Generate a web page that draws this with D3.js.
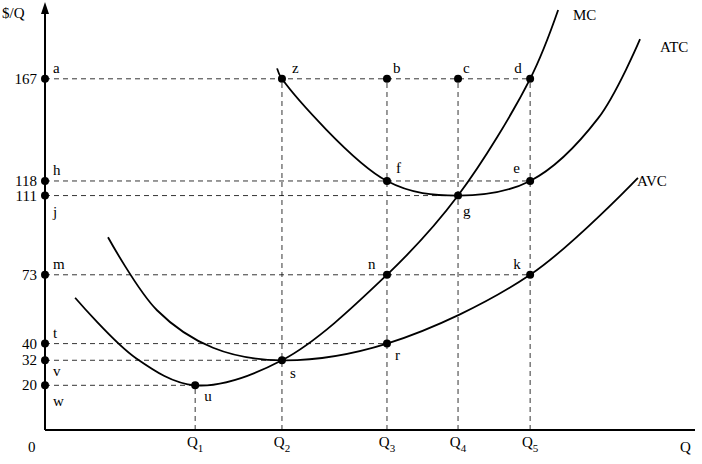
<!DOCTYPE html><html><head><meta charset="utf-8"><script src="https://cdn.jsdelivr.net/npm/d3@7"></script>
<style>body{margin:0;background:#fff}text{font-family:"Liberation Serif",serif;font-size:15px;fill:#000}</style></head><body>
<svg id="c" width="702" height="464"></svg>
<script>
const priceTicks=[167,118,111,73,40,32,20];
const priceLetters=["a","h","j","m","t","v","w"];
const qTicks=[4.29,6.77,9.77,11.8,13.86];
const qLabels=["1","2","3","4","5"];
const mc=[[0.86,62],[2.6,33],[4.29,20],[6.77,32],[9.77,73],[11.8,111],[13.86,167],[14.66,200]];
const atc=[[6.63,172],[6.77,167],[9.77,118],[11.8,111],[13.86,118],[15.8,148],[17,186]];
const avc=[[1.8,91],[3.2,56],[4.8,38],[6.77,32],[9.77,40],[13.86,73],[16.94,119.5]];
const pts=[{n:"z",q:6.77,v:167},{n:"b",q:9.77,v:167},{n:"c",q:11.8,v:167},{n:"d",q:13.86,v:167},
{n:"f",q:9.77,v:118},{n:"e",q:13.86,v:118},{n:"g",q:11.8,v:111},{n:"n",q:9.77,v:73},{n:"k",q:13.86,v:73},
{n:"r",q:9.77,v:40},{n:"s",q:6.77,v:32},{n:"u",q:4.29,v:20}];
const hLines=[[167,13.86],[118,13.86],[111,11.8],[73,13.86],[40,9.77],[32,6.77],[20,4.29]];
const vLines=[[4.29,20],[6.77,167],[9.77,167],[11.8,167],[13.86,167]];
const svg=d3.select("#c");
const x=d3.scaleLinear().domain([0,18.57]).range([45,695]);
const y=d3.scaleLinear().domain([0,200]).range([427,10]);
const y0=430;
hLines.forEach(([v,q])=>svg.append("line").attr("x1",x(0)).attr("x2",x(q)).attr("y1",y(v)).attr("y2",y(v)).attr("stroke","#000").attr("stroke-dasharray","5,4").attr("stroke-width",0.8));
vLines.forEach(([q,v])=>svg.append("line").attr("x1",x(q)).attr("x2",x(q)).attr("y1",y0).attr("y2",y(v)).attr("stroke","#000").attr("stroke-dasharray","5,4").attr("stroke-width",0.8));
svg.append("line").attr("x1",45).attr("x2",45).attr("y1",y0).attr("y2",12).attr("stroke","#000").attr("stroke-width",2);
svg.append("path").attr("d","M45,2 L41,14 L49,14Z");
svg.append("line").attr("x1",45).attr("x2",695).attr("y1",y0).attr("y2",y0).attr("stroke","#000").attr("stroke-width",2);
svg.append("text").attr("x",2).attr("y",18).text("$/Q");
svg.append("text").attr("x",28).attr("y",452).text("0");
svg.append("text").attr("x",680).attr("y",452).text("Q");
const line=d3.line().x(d=>x(d[0])).y(d=>y(d[1])).curve(d3.curveCatmullRom.alpha(0.5));
[mc,atc,avc].forEach(d=>svg.append("path").attr("d",line(d)).attr("fill","none").attr("stroke","#000").attr("stroke-width",1.8));
svg.append("text").attr("x",573).attr("y",20).text("MC");
svg.append("text").attr("x",660).attr("y",52).text("ATC");
svg.append("text").attr("x",637).attr("y",186).text("AVC");
priceTicks.forEach((v,i)=>{
 svg.append("text").attr("x",37).attr("y",y(v)+5).attr("text-anchor","end").text(v);
 svg.append("circle").attr("cx",45).attr("cy",y(v)).attr("r",4);
 const below=["j","w","v"].includes(priceLetters[i]);
 svg.append("text").attr("x",53).attr("y",priceLetters[i]=="v"?y(v)+16:below?y(v)+21:y(v)-6).text(priceLetters[i]);
});
qTicks.forEach((q,i)=>{const t=svg.append("text").attr("x",x(q)).attr("y",447).attr("text-anchor","middle").text("Q");
 t.append("tspan").attr("dy",5).attr("font-size","11px").text(qLabels[i]);});
const off={z:[10,-6],b:[6,-6],c:[5,-6],d:[-16,-6],f:[9,-8],e:[-17,-8],g:[5,20],n:[-19,-6],k:[-17,-6],r:[8,16],s:[8,18],u:[9,16]};
pts.forEach(p=>{svg.append("circle").attr("cx",x(p.q)).attr("cy",y(p.v)).attr("r",4);
 svg.append("text").attr("x",x(p.q)+off[p.n][0]).attr("y",y(p.v)+off[p.n][1]).text(p.n);});
</script></body></html>
